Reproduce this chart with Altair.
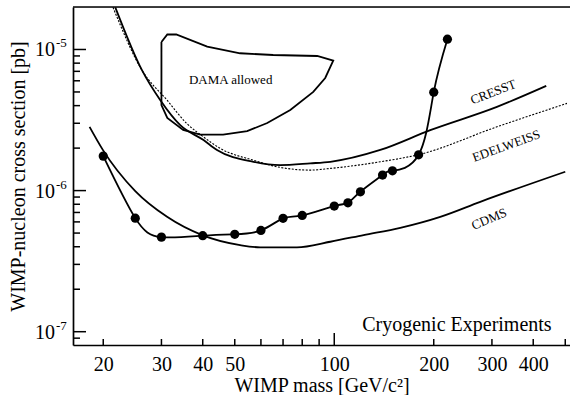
import altair as alt
import pandas as pd

FONT = "Liberation Serif"

# ---- data ----
dot_mass = [20, 25, 30, 40, 50, 60, 70, 80, 100, 110, 120, 140, 150, 180, 200, 220]
dot_sigma = [1.755e-6, 6.38e-7, 4.68e-7, 4.79e-7, 4.90e-7, 5.22e-7, 6.36e-7, 6.67e-7,
             7.77e-7, 8.19e-7, 9.81e-7, 1.288e-6, 1.381e-6, 1.793e-6, 4.98e-6, 1.183e-5]

cresst_mass = [21.75, 26.19, 29.77, 34.2, 40.22, 44.17, 56.99, 68.65, 84.6, 97.3, 137.8, 195.2, 310.6, 438]
cresst_sigma = [1.99e-5, 7.13e-6, 4.37e-6, 2.91e-6, 2.28e-6, 1.94e-6, 1.60e-6, 1.516e-6, 1.56e-6,
                1.60e-6, 1.94e-6, 2.68e-6, 3.92e-6, 5.52e-6]

edel_mass = [21.4, 26.19, 31.2, 35.8, 40.22, 45.2, 57.0, 68.65, 84.6, 97.3, 137.8, 182, 310.6, 506]
edel_sigma = [1.99e-5, 7.13e-6, 4.37e-6, 2.99e-6, 2.40e-6, 1.99e-6, 1.64e-6, 1.46e-6, 1.397e-6,
              1.436e-6, 1.60e-6, 1.81e-6, 2.83e-6, 4.15e-6]

cdms_mass = [18.18, 19.9, 25.0, 31.2, 40, 51.9, 59.7, 77.1, 97.3, 122.7, 158.4, 209.3, 276.6, 500]
cdms_sigma = [2.83e-6, 1.96e-6, 9.92e-7, 6.52e-7, 4.82e-7, 4.11e-7, 3.96e-7, 3.96e-7, 4.34e-7,
              4.84e-7, 5.45e-7, 6.52e-7, 8.33e-7, 1.36e-6]

dama_mass = [30.0, 31.25, 33.26, 41.27, 51.9, 65.35, 88.8, 99.3, 93.9, 86.4, 73.6, 62.7, 54.5,
             46.1, 39.3, 34.9, 31.25, 30.0, 30.0]
dama_sigma = [1.13e-5, 1.277e-5, 1.277e-5, 1.047e-5, 9.40e-6, 9.14e-6, 8.99e-6, 8.33e-6, 6.28e-6,
              5.0e-6, 3.72e-6, 3.01e-6, 2.64e-6, 2.49e-6, 2.49e-6, 2.69e-6, 3.27e-6, 4.04e-6, 1.13e-5]

x_label_values = [20, 30, 40, 50, 100, 200, 300, 400]
x_minor_ticks = [20, 30, 40, 50, 60, 70, 80, 90, 200, 300, 400, 500]
x_major_ticks = [100]
y_major_ticks = [1e-7, 1e-6, 1e-5]
y_minor_ticks = [9e-8] + [k * 1e-7 for k in range(2, 10)] + [k * 1e-6 for k in range(2, 10)]
y_label_base = ["10", "10", "10"]
y_label_exp = ["-7", "-6", "-5"]

annot_text = ["DAMA allowed", "CRESST", "EDELWEISS", "CDMS"]
annot_mass = [48.6, 302.9, 331.5, 294.4]
annot_sigma = [6.08e-6, 4.98e-6, 2.07e-6, 6.28e-7]
annot_angle = [0, 339, 340, 337]

# ---- layout ----
W, H = 497, 338
xscale = alt.Scale(type="log", domain=[16.2, 516.8], nice=False)
yscale = alt.Scale(type="log", domain=[8.05e-8, 2.0e-5], nice=False)

X = alt.X("m:Q", scale=xscale, axis=alt.Axis(
    values=x_label_values, format="d", ticks=False, grid=False,
    domainColor="black", domainWidth=1.7,
    labelFont=FONT, labelFontSize=20, labelColor="black", labelPadding=9,
    title="WIMP mass [GeV/c²]", titleFont=FONT, titleFontSize=20, titleFontWeight="normal",
    titleColor="black", titleBaseline="alphabetic", titleY=46))
Y = alt.Y("s:Q", scale=yscale, axis=alt.Axis(
    labels=False, ticks=False, grid=False, domainColor="black", domainWidth=1.7,
    title="WIMP-nucleon cross section [pb]", titleFont=FONT, titleFontSize=20,
    titleFontWeight="normal", titleColor="black", titleBaseline="middle", titleX=-55))


def df(m, s, **extra):
    d = pd.DataFrame({"m": m, "s": s})
    for k, v in extra.items():
        d[k] = v
    return d


def curve(m, s, **kw):
    d = df(m, s, i=list(range(len(m))))
    return alt.Chart(d).mark_line(color="black", clip=True, **kw).encode(
        x=X, y=Y, order="i:Q")


cresst = curve(cresst_mass, cresst_sigma, strokeWidth=1.8, interpolate="monotone")
edel = curve(edel_mass, edel_sigma, strokeWidth=1.1, strokeDash=[2, 1.5], interpolate="monotone")
cdms = curve(cdms_mass, cdms_sigma, strokeWidth=1.8, interpolate="monotone")
dama = curve(dama_mass, dama_sigma, strokeWidth=1.8, interpolate="linear")
dotline = curve(dot_mass, dot_sigma, strokeWidth=1.8, interpolate="natural")
dots = alt.Chart(df(dot_mass, dot_sigma)).mark_circle(
    color="black", opacity=1, size=85).encode(x=X, y=Y)

annots = alt.Chart(df(annot_mass, annot_sigma, t=annot_text, a=annot_angle)).mark_text(
    font=FONT, fontSize=13, color="black", align="center", baseline="middle").encode(
    x=X, y=Y, text="t:N", angle=alt.Angle("a:Q", scale=None))

cryo = alt.Chart(df([235.1], [1.115e-7], t=["Cryogenic Experiments"])).mark_text(
    font=FONT, fontSize=20, color="black", align="center", baseline="middle").encode(
    x=X, y=Y, text="t:N")

xminor = alt.Chart(pd.DataFrame({"m": x_minor_ticks})).mark_rule(
    color="black", strokeWidth=1.5).encode(x=X, y=alt.value(H), y2=alt.value(H - 6))
xmajor = alt.Chart(pd.DataFrame({"m": x_major_ticks})).mark_rule(
    color="black", strokeWidth=1.5).encode(x=X, y=alt.value(H), y2=alt.value(H - 12))
yminor = alt.Chart(pd.DataFrame({"s": y_minor_ticks})).mark_rule(
    color="black", strokeWidth=1.5).encode(y=Y, x=alt.value(0), x2=alt.value(7))
ymajor = alt.Chart(pd.DataFrame({"s": y_major_ticks})).mark_rule(
    color="black", strokeWidth=1.5).encode(y=Y, x=alt.value(0), x2=alt.value(13))

ylab = alt.Chart(pd.DataFrame({"s": y_major_ticks, "t": y_label_base})).mark_text(
    font=FONT, fontSize=20, color="black", align="right", baseline="middle", dy=1).encode(
    y=Y, x=alt.value(-18), text="t:N")
yexp = alt.Chart(pd.DataFrame({"s": y_major_ticks, "t": y_label_exp})).mark_text(
    font=FONT, fontSize=13, color="black", align="left", baseline="middle", dx=1, dy=-6).encode(
    y=Y, x=alt.value(-18), text="t:N")

topline = alt.Chart(pd.DataFrame({"s": [2.0e-5]})).mark_rule(
    color="black", strokeWidth=1.7).encode(y=alt.value(0), x=alt.value(0), x2=alt.value(W))

chart = alt.layer(
    cresst, edel, cdms, dama, dotline, dots, annots, cryo,
    xminor, xmajor, yminor, ymajor, ylab, yexp, topline
).properties(
    width=W, height=H,
    autosize=alt.AutoSizeParams(type="none"),
    padding={"left": 73, "top": 7, "right": 0, "bottom": 50},
).configure_view(stroke=None).configure(background="white")

chart.save("out.html", embed_options={"renderer": "svg", "actions": False})
